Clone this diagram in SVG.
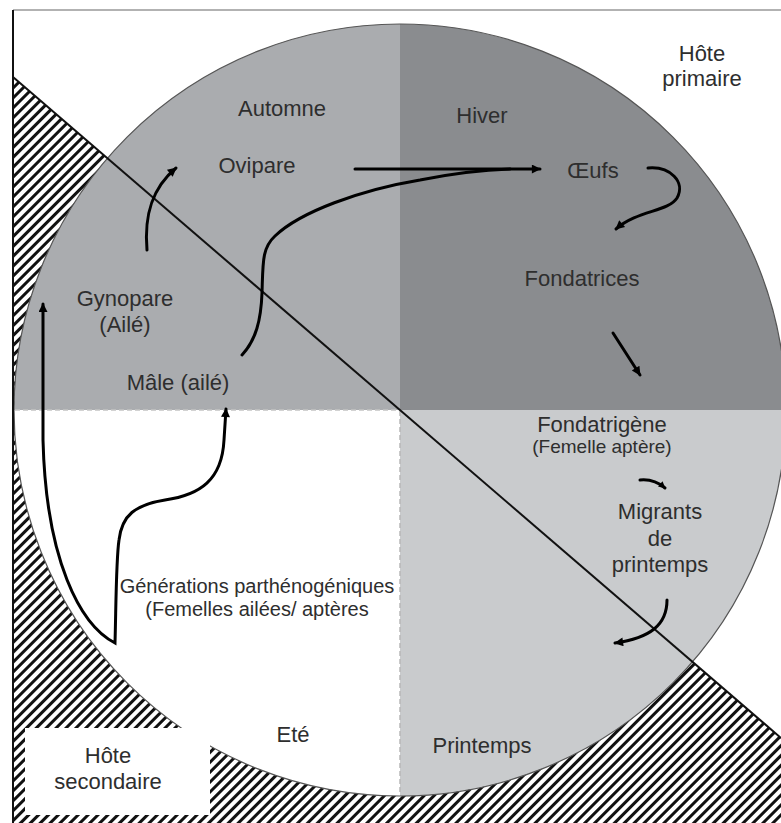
<svg xmlns="http://www.w3.org/2000/svg" width="781" height="823" viewBox="0 0 781 823">
  <defs>
    <pattern id="hatch" patternUnits="userSpaceOnUse" width="7" height="7" patternTransform="rotate(45)">
      <rect width="7" height="7" fill="#fff"/>
      <rect width="3" height="7" fill="#111"/>
    </pattern>
    <marker id="ah" viewBox="0 0 10 10" refX="9" refY="5" markerWidth="12" markerHeight="9" markerUnits="userSpaceOnUse" orient="auto-start-reverse">
      <path d="M0,0 L10,5 L0,10 Z" fill="#000"/>
    </marker>
    <marker id="ahs" viewBox="0 0 10 10" refX="9" refY="5" markerWidth="8" markerHeight="7" markerUnits="userSpaceOnUse" orient="auto">
      <path d="M0,0 L10,5 L0,10 Z" fill="#000"/>
    </marker>
    <style>
      .t { font-family: "Liberation Sans", Arial, sans-serif; font-size: 22px; fill: #2e2e2e; text-anchor: middle; }
      .s { font-size: 20px; }
      .xs { font-size: 19px; }
      .c { fill: none; stroke: #000; stroke-width: 3; stroke-linecap: round; }
      .dash { fill: none; stroke-width: 1.5; stroke-dasharray: 5 3; }
    </style>
  </defs>

  <rect width="781" height="823" fill="#fff"/>

  <!-- secondary host hatch (below diagonal) -->
  <polygon points="13,77 781,738 781,823 13,823" fill="url(#hatch)"/>

  <!-- season quadrants -->
  <path d="M400,410 L14,410 A386,386 0 0 1 400,24 Z" fill="#aaacaf"/>
  <path d="M400,410 L400,24 A386,386 0 0 1 786,410 Z" fill="#8a8c8f"/>
  <path d="M400,410 L786,410 A386,386 0 0 1 400,796 Z" fill="#c9cbcd"/>
  <path d="M400,410 L400,796 A386,386 0 0 1 14,410 Z" fill="#fff"/>
  <circle cx="400" cy="410" r="386" fill="none" stroke="#555" stroke-width="1.2"/>

  <line class="dash" x1="15" y1="410" x2="400" y2="410" stroke="#c4c4c4"/>
  <line class="dash" x1="400" y1="411" x2="400" y2="795" stroke="#b8b8b8"/>

  <!-- white label box -->
  <rect x="25" y="728" width="185" height="87" fill="#fff"/>

  <!-- frame and host divider -->
  <line x1="13" y1="10" x2="781" y2="10" stroke="#999" stroke-width="1.5"/>
  <line x1="13" y1="10" x2="13" y2="823" stroke="#111" stroke-width="2"/>
  <line x1="13" y1="77" x2="781" y2="738" stroke="#111" stroke-width="2"/>

  <g id="connectors">
    <path class="c" d="M355,169 L540,169" marker-end="url(#ah)"/>
    <path class="c" d="M242,355 C256,340 261,320 262,293 C263,262 262,248 275,236 C300,212 360,190 420,180 C450,174 480,170 510,169"/>
    <path class="c" d="M147,250 C144,215 152,188 176,168" marker-end="url(#ah)"/>
    <path class="c" d="M43,304 L43,440 C46,560 80,625 115,643 C116,610 116,560 119,540 C122,515 135,505 165,500 C200,495 222,480 224,440 L226,409" marker-start="url(#ah)" marker-end="url(#ah)"/>
    <path class="c" d="M648,168 C670,166 686,182 677,198 C668,212 638,210 616,229" marker-end="url(#ah)"/>
    <path class="c" d="M613,333 L640,375" marker-end="url(#ah)"/>
    <path class="c" d="M640,480 C650,479 658,482 665,488" marker-end="url(#ahs)"/>
    <path class="c" d="M667,600 C667,625 650,638 615,643" marker-end="url(#ah)"/>
  </g>

  <g id="automne"><text class="t" x="282" y="116">Automne</text></g>
  <g id="hiver"><text class="t" x="482" y="123">Hiver</text></g>
  <g id="printemps"><text class="t" x="482" y="753">Printemps</text></g>
  <g id="ete"><text class="t" x="293" y="742">Eté</text></g>
  <g id="hote-primaire"><text class="t" x="702" y="61">Hôte</text><text class="t" x="702" y="86">primaire</text></g>
  <g id="hote-secondaire"><text class="t" x="108" y="763">Hôte</text><text class="t" x="108" y="789">secondaire</text></g>
  <g id="ovipare"><text class="t" x="257" y="173">Ovipare</text></g>
  <g id="oeufs"><text class="t" x="593" y="178">Œufs</text></g>
  <g id="fondatrices"><text class="t" x="582" y="286">Fondatrices</text></g>
  <g id="fondatrigene"><text class="t" x="602" y="432">Fondatrigène</text><text class="t xs" x="602" y="453">(Femelle aptère)</text></g>
  <g id="migrants"><text class="t" x="660" y="519">Migrants</text><text class="t" x="660" y="546">de</text><text class="t" x="660" y="572">printemps</text></g>
  <g id="generations"><text class="t s" x="257" y="593">Générations parthénogéniques</text><text class="t s" x="257" y="616">(Femelles ailées/ aptères</text></g>
  <g id="gynopare"><text class="t" x="125" y="306">Gynopare</text><text class="t" x="125" y="332">(Ailé)</text></g>
  <g id="male"><text class="t" x="178" y="390">Mâle (ailé)</text></g>
</svg>
